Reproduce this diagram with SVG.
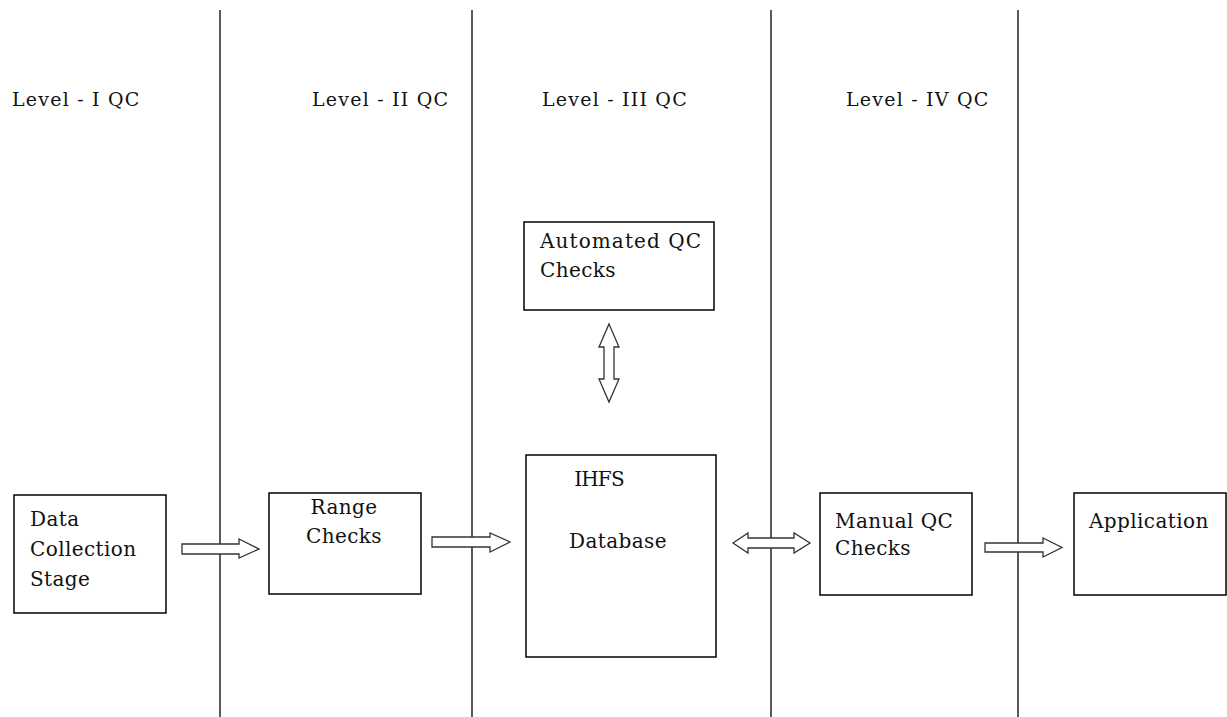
<svg xmlns="http://www.w3.org/2000/svg" width="1227" height="717" viewBox="0 0 1227 717">
  <style>
    .lane { stroke: #000; stroke-width: 1.3; }
    .box { fill: #fff; stroke: #000; stroke-width: 1.5; }
    .arrow { fill: #fff; stroke: #333; stroke-width: 1.3; stroke-linejoin: miter; }
    .lbl { font-family: 'DejaVu Serif', serif; font-size: 19px; letter-spacing: 1.2px; fill: #111; }
    .txt { font-family: 'DejaVu Serif', serif; font-size: 20px; letter-spacing: 0.4px; fill: #111; }
  </style>
  <rect width="1227" height="717" fill="#fff"/>

  <!-- lane dividers -->
  <g id="lanes">
    <line class="lane" x1="220" y1="10" x2="220" y2="717"/>
    <line class="lane" x1="472" y1="10" x2="472" y2="717"/>
    <line class="lane" x1="771" y1="10" x2="771" y2="717"/>
    <line class="lane" x1="1018" y1="10" x2="1018" y2="717"/>
  </g>

  <!-- lane titles -->
  <g id="titles">
    <text class="lbl" x="12" y="106">Level - I QC</text>
    <text class="lbl" x="312" y="106">Level - II QC</text>
    <text class="lbl" x="542" y="106">Level - III QC</text>
    <text class="lbl" x="846" y="106">Level - IV QC</text>
  </g>

  <!-- block arrows -->
  <g id="connectors">
    <!-- data collection to range checks -->
    <polygon class="arrow" points="182,544 239,544 239,539 259,549 239,558 239,554 182,554"/>
    <!-- range checks to database -->
    <polygon class="arrow" points="432,537 490,537 490,533 510,542 490,552 490,547 432,547"/>
    <!-- database to/from manual checks -->
    <polygon class="arrow" points="733,543 748,533 748,538 794,538 794,533 810,543 794,553 794,548 748,548 748,553"/>
    <!-- manual checks to application -->
    <polygon class="arrow" points="985,543 1043,543 1043,538 1062,547.5 1043,557 1043,552 985,552"/>
    <!-- automated checks to/from database -->
    <polygon class="arrow" points="609,324 619,347 614,347 614,379 619,379 609,402 599,379 604,379 604,347 599,347"/>
  </g>

  <g id="node-data-collection">
    <rect class="box" x="14" y="495" width="152" height="118"/>
    <text class="txt" x="30" y="526">Data</text>
    <text class="txt" x="30" y="556">Collection</text>
    <text class="txt" x="30" y="586">Stage</text>
  </g>

  <g id="node-range-checks">
    <rect class="box" x="269" y="493" width="152" height="101"/>
    <text class="txt" x="344" y="514" text-anchor="middle">Range</text>
    <text class="txt" x="344" y="543" text-anchor="middle">Checks</text>
  </g>

  <g id="node-automated-checks">
    <rect class="box" x="524" y="222" width="190" height="88"/>
    <text class="txt" x="540" y="248" style="letter-spacing:1.1px">Automated QC</text>
    <text class="txt" x="540" y="277">Checks</text>
  </g>

  <g id="node-database">
    <rect class="box" x="526" y="455" width="190" height="202"/>
    <text class="txt" x="599" y="486" text-anchor="middle" style="letter-spacing:-0.8px">IHFS</text>
    <text class="txt" x="618" y="548" text-anchor="middle">Database</text>
  </g>

  <g id="node-manual-checks">
    <rect class="box" x="820" y="493" width="152" height="102"/>
    <text class="txt" x="835" y="528">Manual QC</text>
    <text class="txt" x="835" y="555">Checks</text>
  </g>

  <g id="node-application">
    <rect class="box" x="1074" y="493" width="152" height="102"/>
    <text class="txt" x="1089" y="528">Application</text>
  </g>
</svg>
